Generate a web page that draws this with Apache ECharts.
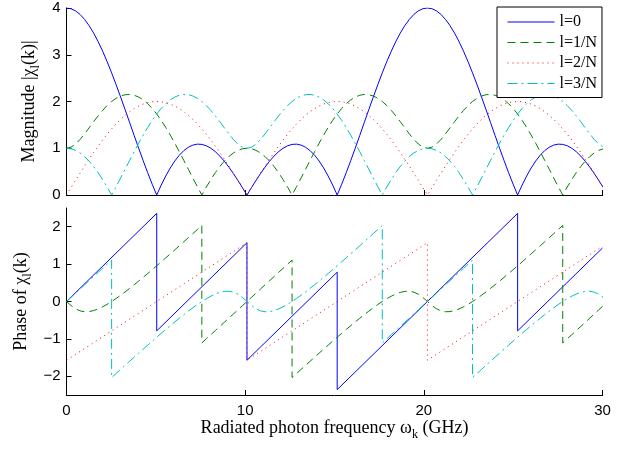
<!DOCTYPE html>
<html>
<head>
<meta charset="utf-8">
<script src="https://cdn.jsdelivr.net/npm/echarts@6/dist/echarts.min.js"></script>
<style>html,body{margin:0;padding:0;background:#fff;}#c{width:636px;height:449px;}</style>
</head>
<body>
<div id="c"></div>
<script>
// Radiated photon frequency grid (GHz)
const freq = [0, 0.2525, 0.505, 0.7575, 1.01, 1.2625, 1.515, 1.7675, 2.02, 2.2725, 2.525, 2.7775, 3.03, 3.2825, 3.535, 3.7875, 4.04, 4.2925, 4.545, 4.7975, 5.05, 5.3025, 5.555, 5.8075, 6.06, 6.3125, 6.565, 6.8175, 7.07, 7.3225, 7.575, 7.8275, 8.08, 8.3325, 8.585, 8.8375, 9.09, 9.3425, 9.595, 9.8475, 10.1, 10.3525, 10.605, 10.8575, 11.11, 11.3625, 11.615, 11.8675, 12.12, 12.3725, 12.625, 12.8775, 13.13, 13.3825, 13.635, 13.8875, 14.14, 14.3925, 14.645, 14.8975, 15.15, 15.4025, 15.655, 15.9075, 16.16, 16.4125, 16.665, 16.9175, 17.17, 17.4225, 17.675, 17.9275, 18.18, 18.4325, 18.685, 18.9375, 19.19, 19.4425, 19.695, 19.9475, 20.2, 20.4525, 20.705, 20.9575, 21.21, 21.4625, 21.715, 21.9675, 22.22, 22.4725, 22.725, 22.9775, 23.23, 23.4825, 23.735, 23.9875, 24.24, 24.4925, 24.745, 24.9975, 25.25, 25.5025, 25.755, 26.0075, 26.26, 26.5125, 26.765, 27.0175, 27.27, 27.5225, 27.775, 28.0275, 28.28, 28.5325, 28.785, 29.0375, 29.29, 29.5425, 29.795, 30.0475];

const seriesNames = ['l=0', 'l=1/N', 'l=2/N', 'l=3/N'];

// Magnitude |chi_l(k)| on the freq grid
const magL0 = [4.000, 3.985, 3.939, 3.863, 3.757, 3.625, 3.466, 3.283, 3.078, 2.854, 2.613, 2.359, 2.095, 1.824, 1.548, 1.273, 1.000, 0.733, 0.476, 0.230, 0, 0.213, 0.406, 0.578, 0.727, 0.850, 0.949, 1.021, 1.067, 1.088, 1.082, 1.053, 1.000, 0.926, 0.832, 0.721, 0.595, 0.457, 0.310, 0.157, 0,
  0.157, 0.310, 0.457, 0.595, 0.721, 0.832, 0.926, 1.000, 1.053, 1.082, 1.088, 1.067, 1.021, 0.949, 0.850, 0.727, 0.578, 0.406, 0.213, 0, 0.230, 0.476, 0.733, 1.000, 1.273, 1.548, 1.824, 2.095, 2.359, 2.613, 2.854, 3.078, 3.283, 3.466, 3.625, 3.757, 3.863, 3.939, 3.985, 4.000,
  3.985, 3.939, 3.863, 3.757, 3.625, 3.466, 3.283, 3.078, 2.854, 2.613, 2.359, 2.095, 1.824, 1.548, 1.273, 1.000, 0.733, 0.476, 0.230, 0, 0.213, 0.406, 0.578, 0.727, 0.850, 0.949, 1.021, 1.067, 1.088, 1.082, 1.053, 1.000, 0.926, 0.832, 0.721, 0.595, 0.457, 0.310, 0.157];
const magL1 = [1.000, 1.023, 1.089, 1.187, 1.306, 1.435, 1.566, 1.692, 1.809, 1.913, 2.000, 2.069, 2.118, 2.145, 2.151, 2.134, 2.095, 2.035, 1.953, 1.852, 1.732, 1.596, 1.445, 1.282, 1.108, 0.927, 0.741, 0.552, 0.364, 0.179, 0, 0.171, 0.331, 0.479, 0.611, 0.726, 0.823, 0.900, 0.955, 0.989, 1.000,
  0.989, 0.955, 0.900, 0.823, 0.726, 0.611, 0.479, 0.331, 0.171, 0, 0.179, 0.364, 0.552, 0.741, 0.927, 1.108, 1.282, 1.445, 1.596, 1.732, 1.852, 1.953, 2.035, 2.095, 2.134, 2.151, 2.145, 2.118, 2.069, 2.000, 1.913, 1.809, 1.692, 1.566, 1.435, 1.306, 1.187, 1.089, 1.023, 1.000,
  1.023, 1.089, 1.187, 1.306, 1.435, 1.566, 1.692, 1.809, 1.913, 2.000, 2.069, 2.118, 2.145, 2.151, 2.134, 2.095, 2.035, 1.953, 1.852, 1.732, 1.596, 1.445, 1.282, 1.108, 0.927, 0.741, 0.552, 0.364, 0.179, 0, 0.171, 0.331, 0.479, 0.611, 0.726, 0.823, 0.900, 0.955, 0.989];
const magL2 = [0, 0.157, 0.313, 0.467, 0.618, 0.765, 0.908, 1.045, 1.176, 1.299, 1.414, 1.521, 1.618, 1.705, 1.782, 1.848, 1.902, 1.945, 1.975, 1.994, 2.000, 1.994, 1.975, 1.945, 1.902, 1.848, 1.782, 1.705, 1.618, 1.521, 1.414, 1.299, 1.176, 1.045, 0.908, 0.765, 0.618, 0.467, 0.313, 0.157, 0,
  0.157, 0.313, 0.467, 0.618, 0.765, 0.908, 1.045, 1.176, 1.299, 1.414, 1.521, 1.618, 1.705, 1.782, 1.848, 1.902, 1.945, 1.975, 1.994, 2.000, 1.994, 1.975, 1.945, 1.902, 1.848, 1.782, 1.705, 1.618, 1.521, 1.414, 1.299, 1.176, 1.045, 0.908, 0.765, 0.618, 0.467, 0.313, 0.157, 0,
  0.157, 0.313, 0.467, 0.618, 0.765, 0.908, 1.045, 1.176, 1.299, 1.414, 1.521, 1.618, 1.705, 1.782, 1.848, 1.902, 1.945, 1.975, 1.994, 2.000, 1.994, 1.975, 1.945, 1.902, 1.848, 1.782, 1.705, 1.618, 1.521, 1.414, 1.299, 1.176, 1.045, 0.908, 0.765, 0.618, 0.467, 0.313, 0.157];
const magL3 = [1.000, 0.989, 0.955, 0.900, 0.823, 0.726, 0.611, 0.479, 0.331, 0.171, 0, 0.179, 0.364, 0.552, 0.741, 0.927, 1.108, 1.282, 1.445, 1.596, 1.732, 1.852, 1.953, 2.035, 2.095, 2.134, 2.151, 2.145, 2.118, 2.069, 2.000, 1.913, 1.809, 1.692, 1.566, 1.435, 1.306, 1.187, 1.089, 1.023, 1.000,
  1.023, 1.089, 1.187, 1.306, 1.435, 1.566, 1.692, 1.809, 1.913, 2.000, 2.069, 2.118, 2.145, 2.151, 2.134, 2.095, 2.035, 1.953, 1.852, 1.732, 1.596, 1.445, 1.282, 1.108, 0.927, 0.741, 0.552, 0.364, 0.179, 0, 0.171, 0.331, 0.479, 0.611, 0.726, 0.823, 0.900, 0.955, 0.989, 1.000,
  0.989, 0.955, 0.900, 0.823, 0.726, 0.611, 0.479, 0.331, 0.171, 0, 0.179, 0.364, 0.552, 0.741, 0.927, 1.108, 1.282, 1.445, 1.596, 1.732, 1.852, 1.953, 2.035, 2.095, 2.134, 2.151, 2.145, 2.118, 2.069, 2.000, 1.913, 1.809, 1.692, 1.566, 1.435, 1.306, 1.187, 1.089, 1.023];

// Phase of chi_l(k): linear pieces given as [freq, phase] vertices
const phaseL0 = [[0, 0], [5.05, 2.356], [5.05, -0.785], [10.1, 1.571], [10.1, -1.571], [15.15, 0.785], [15.15, -2.356], [25.25, 2.356], [25.25, -0.785], [30, 1.431]];
const phaseL2 = [[0, -1.571], [10.1, 1.571], [10.1, -1.571], [20.2, 1.571], [20.2, -1.571], [30, 1.478]];
// Phase on the freq grid; [before, after] marks a jump at that frequency
const phaseL1 = [0, -0.107, -0.194, -0.250, -0.274, -0.270, -0.243, -0.200, -0.142, -0.075, 0, 0.081, 0.168, 0.258, 0.352, 0.448, 0.546, 0.646, 0.748, 0.851, 0.955, 1.061, 1.167, 1.273, 1.381, 1.489, 1.597, 1.706, 1.815, 1.925, [2.034, -1.107],
  -0.997, -0.887, -0.776, -0.666, -0.555, -0.444, -0.333, -0.222, -0.111, 0, 0.111, 0.222, 0.333, 0.444, 0.555, 0.666, 0.776, 0.887, 0.997, [1.107, -2.034],
  -1.925, -1.815, -1.706, -1.597, -1.489, -1.381, -1.273, -1.167, -1.061, -0.955, -0.851, -0.748, -0.646, -0.546, -0.448, -0.352, -0.258, -0.168, -0.081, 0, 0.075, 0.142, 0.200, 0.243, 0.270, 0.274, 0.250, 0.194, 0.107, 0,
  -0.107, -0.194, -0.250, -0.274, -0.270, -0.243, -0.200, -0.142, -0.075, 0, 0.081, 0.168, 0.258, 0.352, 0.448, 0.546, 0.646, 0.748, 0.851, 0.955, 1.061, 1.167, 1.273, 1.381, 1.489, 1.597, 1.706, 1.815, 1.925, [2.034, -1.107],
  -0.997, -0.887, -0.776, -0.666, -0.555, -0.444, -0.333, -0.222, -0.111];
const phaseL3 = [0, 0.111, 0.222, 0.333, 0.444, 0.555, 0.666, 0.776, 0.887, 0.997, [1.107, -2.034],
  -1.925, -1.815, -1.706, -1.597, -1.489, -1.381, -1.273, -1.167, -1.061, -0.955, -0.851, -0.748, -0.646, -0.546, -0.448, -0.352, -0.258, -0.168, -0.081, 0, 0.075, 0.142, 0.200, 0.243, 0.270, 0.274, 0.250, 0.194, 0.107, 0,
  -0.107, -0.194, -0.250, -0.274, -0.270, -0.243, -0.200, -0.142, -0.075, 0, 0.081, 0.168, 0.258, 0.352, 0.448, 0.546, 0.646, 0.748, 0.851, 0.955, 1.061, 1.167, 1.273, 1.381, 1.489, 1.597, 1.706, 1.815, 1.925, [2.034, -1.107],
  -0.997, -0.887, -0.776, -0.666, -0.555, -0.444, -0.333, -0.222, -0.111, 0, 0.111, 0.222, 0.333, 0.444, 0.555, 0.666, 0.776, 0.887, 0.997, [1.107, -2.034],
  -1.925, -1.815, -1.706, -1.597, -1.489, -1.381, -1.273, -1.167, -1.061, -0.955, -0.851, -0.748, -0.646, -0.546, -0.448, -0.352, -0.258, -0.168, -0.081, 0, 0.075, 0.142, 0.200, 0.243, 0.270, 0.274, 0.250, 0.194, 0.107];

const xTicks = [0, 10, 20, 30];
const magTicks = [0, 1, 2, 3, 4];
const phaseTicks = [-2, -1, 0, 1, 2];

function onGrid(vals) {
  const out = [];
  vals.forEach(function (v, i) {
    if (Array.isArray(v)) { out.push([freq[i], v[0]]); out.push([freq[i], v[1]]); }
    else out.push([freq[i], v]);
  });
  return out;
}

const colors = ['#0000ff', '#008000', '#ff0000', '#00bfbf'];
const dashes = ['solid', [8, 5], [1, 4], [10, 4, 2, 4]];
const SERIF = "'Liberation Serif','Times New Roman',serif";
const SANS = "'Liberation Sans',Arial,sans-serif";

function mk(name, idx, data, axis) {
  return {
    name: name, type: 'line', xAxisIndex: axis, yAxisIndex: axis,
    data: data, symbol: 'none', showSymbol: false, clip: true,
    lineStyle: { color: colors[idx], width: 1, type: dashes[idx] },
    itemStyle: { color: colors[idx] },
    emphasis: { disabled: true }, animation: false
  };
}

const mags = [magL0, magL1, magL2, magL3];
const series = [];
mags.forEach(function (m, i) { series.push(mk(seriesNames[i], i, onGrid(m), 0)); });
series.push(mk(seriesNames[0], 0, phaseL0, 1));
series.push(mk(seriesNames[1], 1, onGrid(phaseL1), 1));
series.push(mk(seriesNames[2], 2, phaseL2, 1));
series.push(mk(seriesNames[3], 3, onGrid(phaseL3), 1));

const nameRich = {
  n: { fontFamily: SERIF, fontSize: 18, color: '#000', lineHeight: 22, verticalAlign: 'middle' },
  s: { fontFamily: SERIF, fontSize: 12, color: '#000', lineHeight: 8, verticalAlign: 'middle', padding: [13, 0, 0, 0] }
};

function xAx(grid, showLabels) {
  const a = {
    type: 'value', gridIndex: grid, min: 0, max: 30, interval: 10,
    axisLine: { show: true, onZero: false, lineStyle: { color: '#000', width: 1 } },
    axisTick: { show: true, inside: true, length: 5, lineStyle: { color: '#000' }, customValues: xTicks },
    axisLabel: { show: showLabels, fontFamily: SANS, fontSize: 15, color: '#000', margin: 8, customValues: xTicks },
    splitLine: { show: false }
  };
  if (showLabels) {
    a.name = '{n|Radiated photon frequency ω}{s|k}{n| (GHz)}';
    a.nameLocation = 'middle';
    a.nameGap = 22;
    a.nameMoveOverlap = false;
    a.nameTextStyle = { rich: nameRich };
  }
  return a;
}
function yAx(grid, min, max, ticks, name, gap) {
  return {
    type: 'value', gridIndex: grid, min: min, max: max,
    axisLine: { show: true, onZero: false, lineStyle: { color: '#000', width: 1 } },
    axisTick: { show: true, inside: true, length: 5, lineStyle: { color: '#000' }, customValues: ticks },
    axisLabel: { show: true, fontFamily: SANS, fontSize: 15, color: '#000', margin: 6, customValues: ticks,
      formatter: function (v) { return String(v).replace('-', '\u2212'); } },
    splitLine: { show: false },
    name: name, nameLocation: 'middle', nameGap: gap, nameMoveOverlap: false,
    nameTextStyle: { rich: nameRich }
  };
}

const chart = echarts.init(document.getElementById('c'), null, { renderer: 'canvas' });
chart.setOption({
  animation: false,
  backgroundColor: '#fff',
  grid: [
    { left: 66.5, top: 8, width: 536, height: 187, outerBoundsMode: 'none', containLabel: false },
    { left: 66.5, top: 208, width: 536, height: 187, outerBoundsMode: 'none', containLabel: false }
  ],
  xAxis: [xAx(0, false), xAx(1, true)],
  yAxis: [
    yAx(0, 0, 4, magTicks, '{n|Magnitude |χ}{s|l}{n|(k)|}', 26),
    yAx(1, -2.5, 2.5, phaseTicks, '{n|Phase of χ}{s|l}{n|(k)}', 34)
  ],
  legend: {
    data: seriesNames, orient: 'vertical', left: 497, top: 7,
    itemWidth: 47, itemHeight: 14, itemGap: 4.5,
    padding: [7, 5, 6, 10],
    backgroundColor: '#fff', borderColor: '#000', borderWidth: 1, borderRadius: 0,
    itemStyle: { color: 'rgba(0,0,0,0)', borderWidth: 0, opacity: 0 },
    lineStyle: { width: 1 },
    textStyle: { fontFamily: SERIF, fontSize: 16, color: '#000', lineHeight: 14 },
    selectedMode: false
  },
  series: series
});
</script>
</body>
</html>
